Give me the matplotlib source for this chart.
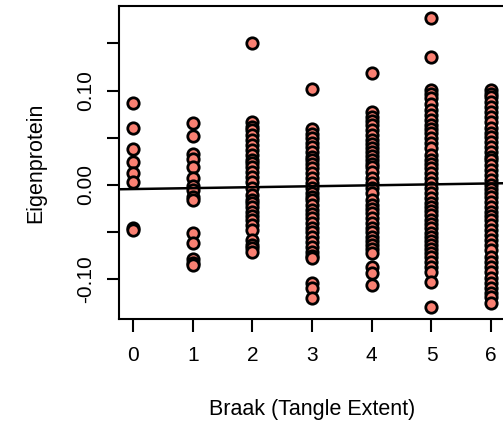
import numpy as np
import matplotlib
matplotlib.use("Agg")
import matplotlib.pyplot as plt

plt.rcParams["font.family"] = ["Liberation Sans", "DejaVu Sans"]

# Braak stage groups and per-stage eigenprotein values
braak_stages = [0, 1, 2, 3, 4, 5, 6]

stage0 = [0.087, 0.060, 0.038, 0.024, 0.013, 0.003, -0.046, -0.048]
stage1 = [0.0656, 0.0519, 0.0328, 0.0275, 0.0190, 0.0074, -0.0011, -0.0053,
          -0.0127, -0.0159, -0.0508, -0.0614, -0.0783, -0.0825, -0.0847]
stage2 = [0.1503, 0.0667, 0.0614, 0.0582, 0.0529, 0.0476, 0.0423, 0.0370,
          0.0317, 0.0265, 0.0233, 0.0190, 0.0138, 0.0085, 0.0032, -0.0032,
          -0.0106, -0.0159, -0.0190, -0.0233, -0.0286, -0.0328, -0.0370,
          -0.0423, -0.0476, -0.0582, -0.0635, -0.0667, -0.0709]
stage3 = [0.1016, 0.0593, 0.0540, 0.0497, 0.0444, 0.0402, 0.0349, 0.0296,
          0.0265, 0.0222, 0.0180, 0.0127, 0.0074, 0.0021, -0.0032, -0.0085,
          -0.0127, -0.0159, -0.0212, -0.0265, -0.0307, -0.0349, -0.0402,
          -0.0455, -0.0497, -0.0550, -0.0603, -0.0656, -0.0709, -0.0751,
          -0.0772, -0.1037, -0.1090, -0.1196]
stage4 = [0.1185, 0.0772, 0.0720, 0.0677, 0.0635, 0.0582, 0.0529, 0.0476,
          0.0434, 0.0392, 0.0349, 0.0307, 0.0265, 0.0222, 0.0190, 0.0138,
          0.0074, 0.0021, -0.0032, -0.0085, -0.0159, -0.0212, -0.0254,
          -0.0296, -0.0349, -0.0402, -0.0455, -0.0497, -0.0550, -0.0593,
          -0.0635, -0.0677, -0.0720, -0.0868, -0.0931, -0.1058]
stage5 = [0.1767, 0.1354, 0.1005, 0.0963, 0.0921, 0.0857, 0.0794, 0.0741,
          0.0688, 0.0635, 0.0593, 0.0550, 0.0497, 0.0444, 0.0392, 0.0317,
          0.0265, 0.0222, 0.0180, 0.0127, 0.0074, 0.0021, -0.0032, -0.0085,
          -0.0138, -0.0190, -0.0233, -0.0275, -0.0317, -0.0370, -0.0413,
          -0.0455, -0.0508, -0.0550, -0.0593, -0.0635, -0.0677, -0.0720,
          -0.0762, -0.0815, -0.0868, -0.0921, -0.1026, -0.1291]
stage6 = [0.1005, 0.0963, 0.0931, 0.0878, 0.0825, 0.0772, 0.0720, 0.0667,
          0.0603, 0.0550, 0.0508, 0.0455, 0.0402, 0.0349, 0.0296, 0.0265,
          0.0212, 0.0159, 0.0106, 0.0053, 0.0000, -0.0042, -0.0085, -0.0127,
          -0.0180, -0.0233, -0.0286, -0.0328, -0.0370, -0.0423, -0.0476,
          -0.0529, -0.0582, -0.0635, -0.0688, -0.0762, -0.0815, -0.0868,
          -0.0921, -0.0984, -0.1037, -0.1090, -0.1143, -0.1185, -0.1249]

stage_values = [stage0, stage1, stage2, stage3, stage4, stage5, stage6]

# linear fit of eigenprotein on Braak stage
fit_intercept = -0.0043
fit_slope = 0.00099

y_ticks = [-0.15, -0.10, -0.05, 0.00, 0.05, 0.10, 0.15]
y_tick_labels = {-0.10: "-0.10", 0.00: "0.00", 0.10: "0.10"}

fig = plt.figure(figsize=(5.03, 4.33), dpi=100)
ax = fig.add_axes([0.236, 0.2644, 0.769, 0.7206])

xs = np.concatenate([[s] * len(v) for s, v in zip(braak_stages, stage_values)])
ys = np.concatenate(stage_values)

ax.plot(xs, ys, linestyle="none", marker="o", markersize=8.2,
        markerfacecolor="#FA8072", markeredgecolor="black",
        markeredgewidth=2.0, zorder=3)

# 4% padding around the data range on both axes
xmin, xmax = min(braak_stages), max(braak_stages)
ymin, ymax = ys.min(), ys.max()
xpad = 0.04 * (xmax - xmin)
ypad = 0.04 * (ymax - ymin)
ax.set_xlim(xmin - xpad, xmax + xpad)
ax.set_ylim(ymin - ypad, ymax + ypad)

xl = np.array(ax.get_xlim())
ax.plot(xl, fit_intercept + fit_slope * xl, color="black", linewidth=1.8, zorder=4)

for sp in ax.spines.values():
    sp.set_linewidth(1.5)

ax.set_xticks(braak_stages)
ax.set_xticklabels([str(s) for s in braak_stages])
yt = [t for t in y_ticks if ymin - ypad <= t <= ymax + ypad]
ax.set_yticks(yt)
ax.set_yticklabels([y_tick_labels.get(round(t, 2), "") for t in yt],
                   rotation=90, va="center")

ax.tick_params(axis="both", direction="out", length=9, width=1.5,
               labelsize=15, color="black")
ax.tick_params(axis="x", pad=11)
ax.tick_params(axis="y", pad=8)

ax.set_xlabel("Braak (Tangle Extent)", fontsize=15.5, va="center")
ax.xaxis.set_label_coords(0.5, -0.293)
ax.set_ylabel("Eigenprotein", fontsize=15.5, va="center")
ax.yaxis.set_label_coords(-0.215, 0.5)

fig.savefig("out.png", dpi=100)
